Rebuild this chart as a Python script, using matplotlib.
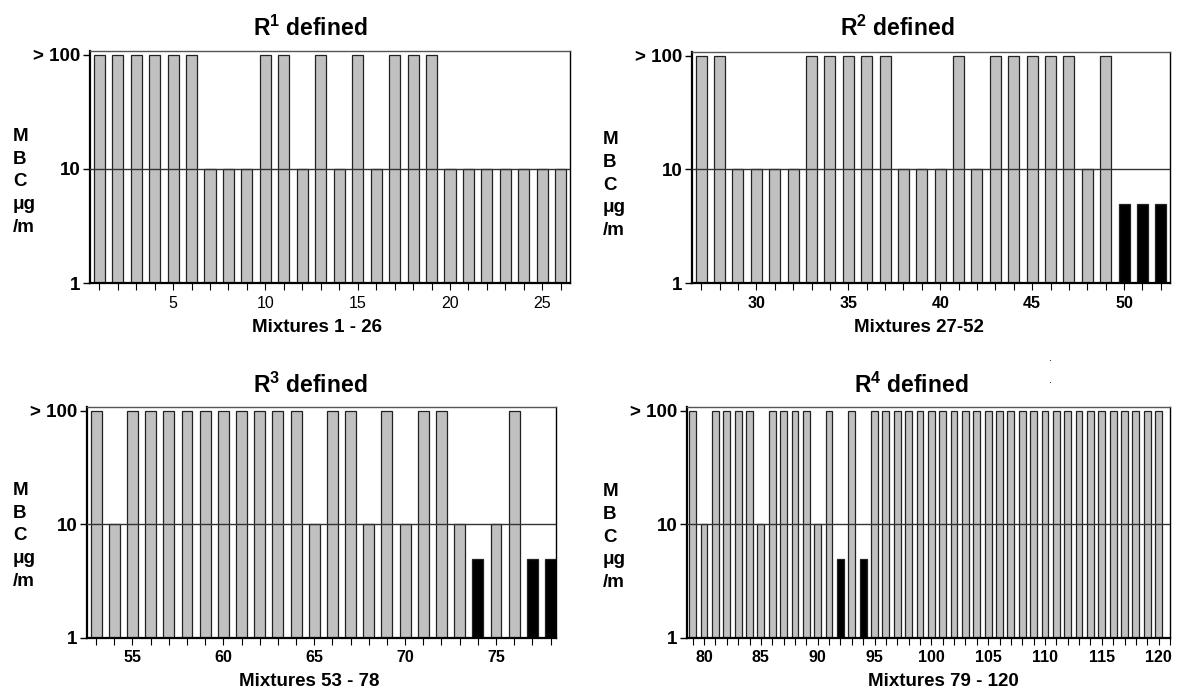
import numpy as np
import matplotlib
matplotlib.use("Agg")
from matplotlib import pyplot as plt
from matplotlib.ticker import MultipleLocator

plt.rcParams["font.family"] = ["Liberation Sans", "DejaVu Sans"]
plt.rcParams["mathtext.fontset"] = "custom"
plt.rcParams["mathtext.rm"] = "Liberation Sans"
plt.rcParams["mathtext.bf"] = "Liberation Sans:bold"

# MBC values, 100 stands for "> 100"
mbc_r1 = [100, 100, 100, 100, 100, 100, 10, 10, 10, 100, 100, 10, 100,
          10, 100, 10, 100, 100, 100, 10, 10, 10, 10, 10, 10, 10]
mbc_r2 = [100, 100, 10, 10, 10, 10, 100, 100, 100, 100, 100, 10, 10,
          10, 100, 10, 100, 100, 100, 100, 100, 10, 100, 5, 5, 5]
mbc_r3 = [100, 10, 100, 100, 100, 100, 100, 100, 100, 100, 100, 100, 10,
          100, 100, 10, 100, 10, 100, 100, 10, 5, 10, 100, 5, 5]
mbc_r4 = [100, 10, 100, 100, 100, 100, 10, 100, 100, 100, 100, 10, 100,
          5, 100, 5] + [100] * 26

mix_r1 = np.arange(1, 27)
mix_r2 = np.arange(27, 53)
mix_r3 = np.arange(53, 79)
mix_r4 = np.arange(79, 121)

titles = [r"$\mathbf{R^1}$ defined", r"$\mathbf{R^2}$ defined",
          r"$\mathbf{R^3}$ defined", r"$\mathbf{R^4}$ defined"]
xlabels = ["Mixtures 1 - 26", "Mixtures 27-52", "Mixtures 53 - 78",
           "Mixtures 79 - 120"]
ytick_labels = ["1", "10", "> 100"]

W, H = 1179, 693
fig = plt.figure(figsize=(W / 100, H / 100), dpi=100)


def px_axes(x0, x1, y0, y1):
    return fig.add_axes([x0 / W, 1 - y1 / H, (x1 - x0) / W, (y1 - y0) / H])


def draw_panel(ax, mix, vals, xlim, bold_ticks):
    vals = np.array(vals)
    colors = ["black" if v < 10 else "#c0c0c0" for v in vals]
    ax.bar(mix, vals, width=0.6, color=colors, edgecolor="#222222",
           linewidth=0.9, zorder=2)
    ax.axhline(10, color="#333333", lw=1.0, zorder=3)
    ax.set_yscale("log")
    ax.set_ylim(1, 108)
    ax.set_xlim(*xlim)
    ax.set_yticks([1, 10, 100])
    ax.set_yticklabels(ytick_labels, fontsize=13.5, fontweight="bold")
    ax.yaxis.set_minor_locator(plt.NullLocator())
    ax.xaxis.set_major_locator(MultipleLocator(5))
    ax.xaxis.set_minor_locator(MultipleLocator(1))
    ax.tick_params(axis="y", length=5, width=1, pad=2)
    ax.tick_params(axis="x", which="both", length=5, width=0.8, pad=4)
    for lab in ax.get_xticklabels():
        lab.set_fontsize(11.5)
        lab.set_fontweight("bold" if bold_ticks else "normal")
    ax.spines["left"].set_linewidth(1.6)
    ax.spines["bottom"].set_linewidth(1.6)
    ax.spines["top"].set_color("#555555")
    ax.spines["top"].set_linewidth(1.0)
    ax.spines["right"].set_linewidth(1.0)


ax1 = px_axes(90, 570, 51, 283)
draw_panel(ax1, mix_r1, mbc_r1, (0.5, 26.5), False)
ax2 = px_axes(692, 1170, 52, 283)
draw_panel(ax2, mix_r2, mbc_r2, (26.5, 52.5), True)
ax3 = px_axes(87, 556, 407, 638)
draw_panel(ax3, mix_r3, mbc_r3, (52.5, 78.3), True)
ax4 = px_axes(687, 1170, 407, 638)
draw_panel(ax4, mix_r4, mbc_r4, (78.5, 121), True)

# titles, x labels and stacked y labels placed in pixels
title_pos = [(310, 28), (897, 28), (310, 385), (911, 385)]
xlabel_pos = [(317, 327), (919, 327), (309, 682), (943, 682)]
ylabel_pos = [(13, 182), (603, 185), (13, 536), (603, 537)]

for t, (x, y) in zip(titles, title_pos):
    fig.text(x / W, 1 - y / H, t, fontsize=16.5, fontweight="bold",
             ha="center", va="center")
for t, (x, y) in zip(xlabels, xlabel_pos):
    fig.text(x / W, 1 - y / H, t, fontsize=13.5, fontweight="bold",
             ha="center", va="center")
for x, y in ylabel_pos:
    fig.text(x / W, 1 - y / H, "M\nB\nC\nμg\n/m", fontsize=13.5,
             fontweight="bold", ha="left", va="center", linespacing=1.45)

# two stray dots in the original
fig.text(1050 / W, 1 - 358 / H, ".", fontsize=8, ha="center", va="center")
fig.text(1050 / W, 1 - 380 / H, ".", fontsize=8, ha="center", va="center")

fig.savefig("out.png", dpi=100)
